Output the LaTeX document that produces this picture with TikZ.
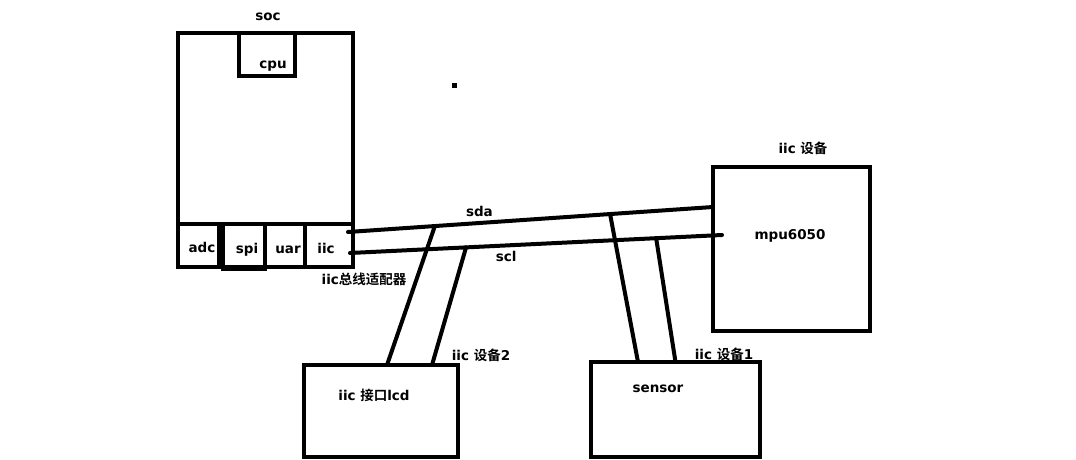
\documentclass[tikz,border=0pt]{standalone}
\usepackage{fontspec}
\setmainfont{DejaVu Sans}
\newfontfamily\cjk{Noto Sans CJK SC}[BoldFont={Noto Sans CJK SC Bold}]
\usetikzlibrary{calc,positioning}

\begin{document}
\begin{tikzpicture}[x=1pt,y=-1pt,line width=4pt,
    box/.style={draw,rectangle,inner sep=0pt,outer sep=0pt},
    lbl/.style={font=\bfseries\fontsize{13.5}{15}\selectfont,inner sep=0pt},
    wire/.style={line cap=round}]
  \useasboundingbox (0,0) rectangle (1076,460);

  % soc and its parts
  \node[box,minimum width=175pt,minimum height=234pt] (soc) at (265.5,150) {};
  \node[box,minimum width=56pt,minimum height=43pt] (cpu) at (267,54.5) {};
  \node[box,minimum width=41pt,minimum height=43pt] (adc) at (198.5,245.5) {};
  \node[box,minimum width=41.5pt,minimum height=45pt] (spi) at (243.75,246.5) {};
  \node[box,minimum width=40pt,minimum height=43pt] (uar) at (284.5,245.5) {};
  \node[box,minimum width=48.5pt,minimum height=43pt] (iic) at (328.75,245.5) {};

  % devices
  \node[box,minimum width=157pt,minimum height=164pt] (mpu) at (791.5,249) {};
  \node[box,minimum width=154pt,minimum height=92pt] (lcd) at (381,411) {};
  \node[box,minimum width=169pt,minimum height=95pt] (sensor) at (675.5,409.5) {};

  \node[lbl] (soc_t) at (268,17) {soc};
  \node[lbl] (cpu_t) at (273,66) {cpu};
  \node[lbl] (adc_t) at (202,247) {adc};
  \node[lbl] (spi_t) at (247,250) {spi};
  \node[lbl] (uar_t) at (288,250) {uar};
  \node[lbl] (iic_t) at (326,248) {iic};
  \node[lbl] (adapter_t) at (364,279) {iic{\cjk 总线适配器}};
  \node[lbl] (mpu_t) at (790,236) {mpu6050};
  \node[lbl] (mpu_l) at (803,148) {iic {\cjk 设备}};
  \node[lbl] (lcd_t) at (374,395) {iic {\cjk 接口}lcd};
  \node[lbl] (lcd_l) at (481,355) {iic {\cjk 设备}2};
  \node[lbl] (sensor_t) at (658,389) {sensor};
  \node[lbl] (sensor_l) at (724,354) {iic {\cjk 设备}1};

  % bus
  \coordinate (sda_a) at ($(iic.east)+(-5,-13.5)$);
  \coordinate (sda_b) at ($(mpu.west)+(0,-42)$);
  \coordinate (scl_a) at ($(iic.east)+(-3,7.5)$);
  \coordinate (scl_b) at ($(mpu.west)+(9,-14)$);
  \draw[wire] (sda_a) -- node[lbl,above=4pt,pos=0.36] (sda_t) {sda} (sda_b);
  \draw[wire] (scl_a) -- node[lbl,below=4pt,pos=0.42] (scl_t) {scl} (scl_b);

  \path[wire]
    ($(sda_a)!0.238!(sda_b)$) coordinate (s1)
    ($(scl_a)!0.312!(scl_b)$) coordinate (c1)
    ($(sda_a)!0.718!(sda_b)$) coordinate (s2)
    ($(scl_a)!0.823!(scl_b)$) coordinate (c2);
  \draw[wire] (s1) -- ($(lcd.north)+(6,0)$);
  \draw[wire] (c1) -- ($(lcd.north)+(51,0)$);
  \draw[wire] (s2) -- ($(sensor.north)+(-37.5,0)$);
  \draw[wire] (c2) -- (sensor.north);

  \fill (451.5,82.5) rectangle +(5,5);
\end{tikzpicture}
\end{document}
